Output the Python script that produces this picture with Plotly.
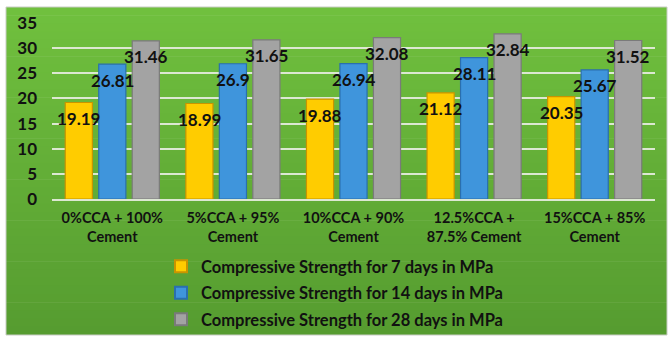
import plotly.graph_objects as go

categories = ["0%CCA + 100%<br>Cement", "5%CCA + 95%<br>Cement", "10%CCA + 90%<br>Cement",
              "12.5%CCA +<br>87.5% Cement", "15%CCA + 85%<br>Cement"]
series_names = ["Compressive Strength for 7 days in MPa",
                "Compressive Strength for 14 days in MPa",
                "Compressive Strength for 28 days in MPa"]
days7 = [19.19, 18.99, 19.88, 21.12, 20.35]
days14 = [26.81, 26.9, 26.94, 28.11, 25.67]
days28 = [31.46, 31.65, 32.08, 32.84, 31.52]
y_ticks = [0, 5, 10, 15, 20, 25, 30, 35]

series = [days7, days14, days28]
fills = ["#FFCC00", "#3F95DC", "#A3A3A3"]
edges = ["#C89400", "#2A6FAE", "#7A7A7A"]

W, H = 670, 338
L, R, T, B = 52, 15, 23, 139
pw, ph = W - L - R, H - T - B
FONT = "Lato"

def px_to_paper_x(px):
    return (px - L) / pw

def px_to_paper_y(py):
    return (H - B - py) / ph

fig = go.Figure()
for name, vals, fc, ec in zip(series_names, series, fills, edges):
    fig.add_trace(go.Bar(
        x=categories, y=vals, name=name,
        marker=dict(color=fc, line=dict(color=ec, width=1.2)),
        legendgroup=name,
    ))

# data labels
slot = 33.5
annotations = []
for i, vals in enumerate(series):
    for c, v in zip(categories, vals):
        annotations.append(dict(
            x=c, y=v, xref="x", yref="y", text=f"{v:g}", showarrow=False,
            xshift=(i - 1) * slot, yshift=-16, yanchor="middle",
            font=dict(family=FONT, size=17, color="#111111", weight="bold"),
        ))

# green gradient panel
shapes = []
top_c = (112, 192, 62)
bot_c = (86, 156, 48)
y0p, y1p = 7, 335
n = 40
for k in range(n):
    a = y0p + (y1p - y0p) * k / n
    b = y0p + (y1p - y0p) * (k + 1) / n + 0.6
    b = min(b, y1p)
    t = k / (n - 1)
    col = tuple(round(top_c[j] + (bot_c[j] - top_c[j]) * t) for j in range(3))
    shapes.append(dict(type="rect", xref="paper", yref="paper", layer="below",
                       x0=px_to_paper_x(6), x1=px_to_paper_x(667),
                       y0=px_to_paper_y(b), y1=px_to_paper_y(a),
                       line=dict(width=0), fillcolor="rgb(%d,%d,%d)" % col))
shapes.append(dict(type="rect", xref="paper", yref="paper", layer="below",
                   x0=px_to_paper_x(6), x1=px_to_paper_x(667),
                   y0=px_to_paper_y(y1p), y1=px_to_paper_y(y0p),
                   line=dict(width=1, color="#C8CCC4"), fillcolor="rgba(0,0,0,0)"))

fig.update_layout(
    width=W, height=H,
    margin=dict(l=L, r=R, t=T, b=B, autoexpand=False),
    paper_bgcolor="white", plot_bgcolor="rgba(0,0,0,0)",
    barmode="group", bargap=0.167, bargroupgap=0.19,
    font=dict(family=FONT, size=14, color="#111111"),
    shapes=shapes, annotations=annotations,
    showlegend=True,
    legend=dict(orientation="v", x=px_to_paper_x(161), xanchor="left",
                y=px_to_paper_y(249), yanchor="top",
                font=dict(family=FONT, size=16.5, color="#111111", weight="bold"),
                bgcolor="rgba(0,0,0,0)", tracegroupgap=2, traceorder="grouped",
                itemsizing="constant"),
    yaxis=dict(range=[0, 35], tickvals=y_ticks, showgrid=True, automargin=False,
               gridcolor="#DCE8D2", gridwidth=2, zeroline=False,
               showline=False, ticks="", ticklabelstandoff=14,
               tickfont=dict(family=FONT, size=17, color="#111111", weight="bold")),
    xaxis=dict(showgrid=False, showline=True, linecolor="#DCE8D2", linewidth=2,
               ticks="", ticklabelstandoff=5, automargin=False,
               tickfont=dict(family=FONT, size=14.5, color="#111111", weight="bold")),
)

fig.write_html("out.html")
